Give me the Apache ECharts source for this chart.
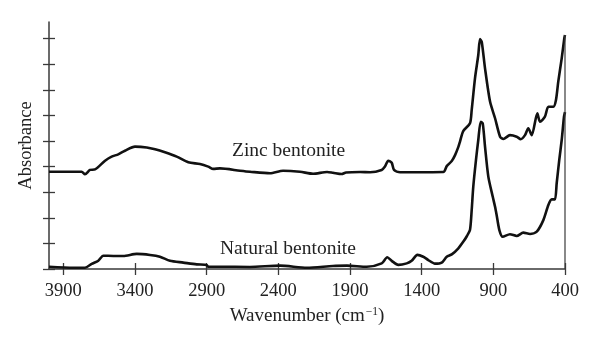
<!DOCTYPE html>
<html>
<head>
<meta charset="utf-8">
<script src="https://cdn.jsdelivr.net/npm/echarts@6/dist/echarts.min.js"></script>
<style>
  html, body { margin: 0; padding: 0; background: #fff; }
  #chart { width: 600px; height: 346px; }
</style>
</head>
<body>
<div id="chart"></div>
<script>
// FTIR spectra: wavenumber (cm-1) vs absorbance (arbitrary units, offset traces)
const zincWavenumber = [4000, 3772, 3749, 3714, 3679, 3609, 3563, 3517, 3470, 3400, 3318, 3260, 3191, 3109, 3028, 2947, 2889, 2854, 2807, 2667, 2598, 2458, 2367, 2249, 2158, 2060, 2019, 1958, 1928, 1830, 1760, 1679, 1656, 1633, 1609, 1593, 1551, 1249, 1225, 1190, 1167, 1144, 1133, 1110, 1063, 1051, 1028, 1005, 993, 981, 958, 923, 888, 853, 830, 784, 737, 709, 679, 656, 632, 593, 574, 540, 516, 481, 463, 447, 423, 405, 400];
const zincAbsorbance = [3.80, 3.80, 3.70, 3.87, 3.89, 4.23, 4.39, 4.48, 4.62, 4.78, 4.75, 4.68, 4.56, 4.39, 4.17, 4.10, 4.00, 3.91, 3.93, 3.84, 3.80, 3.74, 3.84, 3.80, 3.72, 3.79, 3.76, 3.71, 3.77, 3.79, 3.78, 3.87, 4.00, 4.23, 4.15, 3.87, 3.78, 3.79, 4.02, 4.22, 4.45, 4.77, 4.97, 5.39, 5.69, 6.21, 7.45, 8.36, 8.98, 8.88, 7.84, 6.54, 5.89, 5.17, 5.08, 5.23, 5.17, 5.07, 5.23, 5.50, 5.23, 6.08, 5.75, 5.95, 6.34, 6.34, 6.60, 7.32, 8.23, 9.01, 9.14];

const naturalWavenumber = [4000, 3830, 3749, 3702, 3656, 3621, 3551, 3482, 3388, 3295, 3226, 3156, 3063, 2970, 2900, 2889, 2807, 2598, 2388, 2200, 2019, 1921, 1783, 1679, 1640, 1609, 1563, 1504, 1470, 1430, 1389, 1354, 1307, 1260, 1225, 1190, 1144, 1109, 1084, 1063, 1051, 1040, 1021, 1005, 988, 974, 958, 935, 904, 888, 877, 858, 835, 784, 737, 691, 644, 597, 551, 516, 493, 470, 458, 440, 423, 407, 400];
const naturalAbsorbance = [0.09, 0.05, 0.05, 0.20, 0.32, 0.52, 0.51, 0.51, 0.59, 0.55, 0.48, 0.32, 0.25, 0.18, 0.16, 0.09, 0.09, 0.08, 0.13, 0.05, 0.12, 0.13, 0.09, 0.22, 0.46, 0.32, 0.16, 0.22, 0.32, 0.55, 0.48, 0.35, 0.21, 0.25, 0.48, 0.57, 0.81, 1.07, 1.29, 1.52, 2.30, 3.21, 4.26, 5.04, 5.75, 5.69, 4.78, 3.61, 2.82, 2.43, 2.11, 1.52, 1.26, 1.36, 1.29, 1.42, 1.37, 1.46, 1.91, 2.50, 2.72, 2.72, 3.35, 4.26, 5.04, 5.95, 6.13];

// Right-hand edge closing the spectra at 400 cm-1
const edgeWavenumber = [400, 400];
const edgeAbsorbance = [0, 9.14];

const xTicks = [400, 900, 1400, 1900, 2400, 2900, 3400, 3900];
const yTicks = [0, 1, 2, 3, 4, 5, 6, 7, 8, 9];
const seriesNames = ['Zinc bentonite', 'Natural bentonite'];

const FONT = '"Liberation Serif", "DejaVu Serif", serif';
const AXIS_COLOR = '#3a3a3a';
const LINE_COLOR = '#111';

const zip = (xs, ys) => xs.map((x, i) => [x, ys[i]]);

const chart = echarts.init(document.getElementById('chart'), null, { renderer: 'canvas' });

const xBase = {
  type: 'value', min: 400, max: 4000, interval: 500, inverse: true,
  splitLine: { show: false }, gridIndex: 0, position: 'bottom'
};
const yBase = {
  type: 'value', min: 0, max: 9.65, interval: 1,
  splitLine: { show: false }, gridIndex: 0, position: 'left'
};
const tickStyle = { color: AXIS_COLOR, width: 1.3 };

chart.setOption({
  animation: false,
  backgroundColor: '#fff',
  grid: { left: 49, right: 35, top: 22, bottom: 77 },
  xAxis: [
    Object.assign({}, xBase, {
      name: '{a|Wavenumber (cm}{s|−1}{a|)}',
      nameLocation: 'middle', nameGap: 37,
      nameTextStyle: {
        rich: {
          a: { fontFamily: FONT, fontSize: 19, color: '#222' },
          s: { fontFamily: FONT, fontSize: 11.5, color: '#222', padding: [0, 0, 9, 1] }
        }
      },
      axisLine: { show: true, lineStyle: { color: AXIS_COLOR, width: 1.5 } },
      axisTick: { show: true, length: 6, customValues: xTicks, lineStyle: tickStyle },
      axisLabel: {
        show: true, margin: 13, fontFamily: FONT, fontSize: 18.5, color: '#222',
        customValues: xTicks, formatter: v => String(v)
      }
    }),
    Object.assign({}, xBase, {
      axisLine: { show: false },
      axisTick: { show: true, inside: true, length: 6, customValues: xTicks, lineStyle: tickStyle },
      axisLabel: { show: false }
    })
  ],
  yAxis: [
    Object.assign({}, yBase, {
      name: 'Absorbance', nameLocation: 'middle', nameGap: 13,
      nameTextStyle: { fontFamily: FONT, fontSize: 18.5, color: '#222' },
      axisLine: { show: true, lineStyle: { color: AXIS_COLOR, width: 1.5 } },
      axisTick: { show: true, length: 6, customValues: yTicks, lineStyle: tickStyle },
      axisLabel: { show: false }
    }),
    Object.assign({}, yBase, {
      axisLine: { show: false },
      axisTick: { show: true, inside: true, length: 6, customValues: yTicks, lineStyle: tickStyle },
      axisLabel: { show: false }
    })
  ],
  series: [
    {
      name: seriesNames[0], type: 'line', xAxisIndex: 0, yAxisIndex: 0,
      data: zip(zincWavenumber, zincAbsorbance), smooth: 0.25, symbol: 'none',
      lineStyle: { color: LINE_COLOR, width: 2.6 }
    },
    {
      name: seriesNames[1], type: 'line', xAxisIndex: 0, yAxisIndex: 0,
      data: zip(naturalWavenumber, naturalAbsorbance), smooth: 0.25, symbol: 'none',
      lineStyle: { color: LINE_COLOR, width: 2.6 }
    },
    {
      name: 'edge', type: 'line', xAxisIndex: 0, yAxisIndex: 0,
      data: zip(edgeWavenumber, edgeAbsorbance), symbol: 'none', silent: true,
      lineStyle: { color: AXIS_COLOR, width: 1.2 }
    }
  ],
  graphic: [
    {
      type: 'text', left: 232, top: 141,
      style: { text: seriesNames[0], font: '19.5px ' + FONT, fill: '#222' }
    },
    {
      type: 'text', left: 220, top: 239,
      style: { text: seriesNames[1], font: '19.5px ' + FONT, fill: '#222' }
    }
  ]
});
</script>
</body>
</html>
